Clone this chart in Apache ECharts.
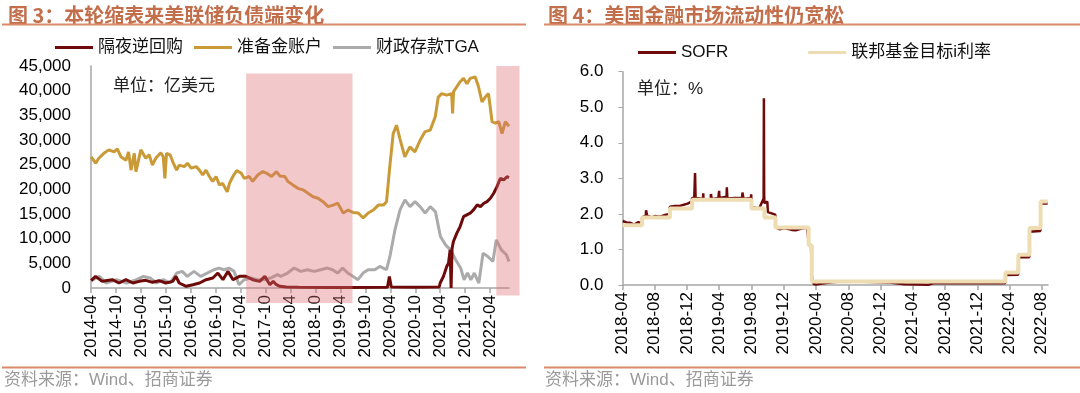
<!DOCTYPE html>
<html><head><meta charset="utf-8">
<script src="https://cdn.jsdelivr.net/npm/echarts@6/dist/echarts.min.js"></script>
<style>html,body{margin:0;padding:0;background:#fff}#c{width:1080px;height:393px}</style>
</head><body><div id="c"></div>
<script>
// ---------- DATA ----------
const leftTitle = '图 3：本轮缩表来美联储负债端变化';
const rightTitle = '图 4：美国金融市场流动性仍宽松';
const sourceText = '资料来源：Wind、招商证券';
const leftUnit = '单位：亿美元';
const rightUnit = '单位：%';
const leftNames = ['隔夜逆回购', '准备金账户', '财政存款TGA'];
const rightNames = ['SOFR', '联邦基金目标i利率'];
const leftTickLabels = ['2014-04','2014-10','2015-04','2015-10','2016-04','2016-10','2017-04','2017-10','2018-04','2018-10','2019-04','2019-10','2020-04','2020-10','2021-04','2021-10','2022-04'];
const rightTickLabels = ['2018-04','2018-08','2018-12','2019-04','2019-08','2019-12','2020-04','2020-08','2020-12','2021-04','2021-08','2021-12','2022-04','2022-08'];
const leftRange = ['2014-04-01', '2022-08-18'];
const rightRange = ['2018-04-01', '2022-08-25'];
// shaded periods (balance-sheet reduction), left chart
const bandStarts = ['2017-05-11', '2022-05-17'];
const bandEnds = ['2019-06-29', '2022-11-03'];
const bandTops = [43500, 45000];

const rrp = [
['2014-04-02',1500],['2014-04-10',1680],['2014-05-04',2360],['2014-06-22',1350],['2014-09-04',1680],['2014-10-23',1010],
['2014-12-13',1680],['2015-02-01',1010],['2015-03-20',1350],['2015-05-08',1550],['2015-06-25',1150],['2015-08-13',1480],
['2015-10-01',1010],['2015-11-20',1350],['2015-12-14',2360],['2016-01-07',1010],['2016-02-27',340],['2016-04-16',670],
['2016-06-04',1010],['2016-07-22',1680],['2016-09-09',2020],['2016-10-16',3030],['2016-11-22',1680],['2016-12-29',3370],
['2017-02-04',1680],['2017-03-23',2360],['2017-05-10',2360],['2017-06-28',1680],['2017-08-18',1350],['2017-09-25',2360],
['2017-11-01',670],['2017-11-25',1350],['2017-12-19',670],['2018-01-13',340],['2018-03-01',200],['2018-06-01',150],
['2019-01-01',120],['2019-06-01',100],['2020-03-11',150],['2020-03-25',2350],['2020-04-08',200],['2020-10-01',150],
['2021-03-25',200],['2021-04-01',1010],['2021-04-25',2360],['2021-05-19',4370],['2021-06-01',5050],['2021-06-13',7740],
['2021-06-20',0],['2021-06-27',8000],['2021-07-07',9420],['2021-08-01',11120],['2021-08-25',12450],['2021-09-19',14470],
['2021-10-13',14830],['2021-11-07',15160],['2021-12-01',15830],['2021-12-28',16840],['2022-01-21',16500],['2022-02-15',17180],
['2022-03-10',17510],['2022-04-04',18190],['2022-04-28',19200],['2022-05-22',20540],['2022-06-16',22240],['2022-07-10',21900],
['2022-08-03',22560],['2022-08-18',22370]
];
const reserves = [
['2014-04-02',26600],['2014-05-05',25300],['2014-05-28',26300],['2014-07-04',27300],['2014-08-10',28000],['2014-09-17',27600],
['2014-10-11',28200],['2014-11-06',26600],['2014-12-13',25900],['2015-01-01',27600],['2015-01-19',23900],['2015-02-12',27300],
['2015-02-24',23600],['2015-04-01',28000],['2015-05-07',26300],['2015-06-01',27000],['2015-06-25',24900],['2015-07-19',26300],
['2015-08-25',27400],['2015-09-12',26600],['2015-09-24',22200],['2015-10-06',27300],['2015-11-01',27000],['2015-11-25',25300],
['2015-12-19',23900],['2016-01-07',24900],['2016-02-13',24600],['2016-03-08',25300],['2016-04-03',24300],['2016-05-10',24600],
['2016-06-03',23900],['2016-06-27',22900],['2016-07-21',23900],['2016-08-15',22600],['2016-09-08',21600],['2016-10-03',22600],
['2016-10-27',20900],['2016-11-20',21200],['2016-12-24',19500],['2017-01-09',21200],['2017-02-03',22600],['2017-03-03',23800],
['2017-04-04',23300],['2017-04-28',22200],['2017-06-03',22600],['2017-06-28',21600],['2017-08-04',22900],['2017-09-10',23600],
['2017-10-06',23300],['2017-11-13',22600],['2017-12-19',23600],['2018-01-13',22700],['2018-02-18',22600],['2018-03-13',21600],
['2018-04-18',20900],['2018-05-25',20200],['2018-07-01',19900],['2018-08-07',19200],['2018-09-13',18500],['2018-10-19',18200],
['2018-11-25',17500],['2019-01-01',16500],['2019-02-07',16800],['2019-03-13',17200],['2019-04-22',15200],['2019-05-28',15800],
['2019-07-04',15300],['2019-08-10',15200],['2019-09-15',14200],['2019-10-22',15200],['2019-11-28',15800],['2020-01-04',16800],
['2020-02-10',16800],['2020-03-04',17500],['2020-03-28',24600],['2020-04-22',31300],['2020-05-16',33000],['2020-06-10',30300],
['2020-07-16',26600],['2020-08-22',28600],['2020-09-28',27600],['2020-11-06',30000],['2020-12-12',31700],['2021-01-18',32000],
['2021-02-24',34700],['2021-03-18',38700],['2021-04-12',39400],['2021-05-18',39100],['2021-06-24',39400],['2021-07-01',35400],
['2021-07-08',39800],['2021-08-25',41800],['2021-09-19',42500],['2021-10-14',41400],['2021-11-07',42500],['2021-12-13',42800],
['2022-01-07',40800],['2022-02-01',37700],['2022-02-25',38700],['2022-03-21',39400],['2022-04-16',33700],['2022-05-10',33400],
['2022-06-04',33700],['2022-06-28',31300],['2022-07-22',33700],['2022-08-18',32800]
];
const tga = [
['2014-04-02',1500],['2014-04-10',1350],['2014-06-01',2360],['2014-07-20',1010],['2014-10-05',1680],['2014-12-18',1010],
['2015-03-01',1680],['2015-04-20',2360],['2015-06-08',2020],['2015-07-26',1010],['2015-09-13',1680],['2015-11-01',1010],
['2015-12-20',3030],['2016-01-29',3370],['2016-03-06',2360],['2016-04-24',3370],['2016-06-12',2360],['2016-07-30',3030],
['2016-09-17',3700],['2016-10-24',4040],['2016-11-30',3700],['2017-01-05',4040],['2017-02-12',3370],['2017-03-20',670],
['2017-04-26',1680],['2017-06-14',2020],['2017-08-01',1680],['2017-09-19',1680],['2017-11-06',2020],['2017-12-26',2700],
['2018-01-20',2360],['2018-03-10',3030],['2018-04-28',4040],['2018-06-15',3370],['2018-08-03',3700],['2018-09-21',3370],
['2018-11-08',3700],['2018-12-27',4040],['2019-02-03',3700],['2019-03-11',3030],['2019-04-18',4040],['2019-05-25',3030],
['2019-07-01',2360],['2019-08-08',1680],['2019-09-14',3030],['2019-10-21',3700],['2019-12-09',3700],['2020-01-15',4370],
['2020-03-04',3700],['2020-03-29',6390],['2020-05-05',11780],['2020-06-11',15830],['2020-07-17',17850],['2020-08-23',16500],
['2020-09-29',17510],['2020-11-05',16500],['2020-12-12',15160],['2021-01-18',16500],['2021-02-25',15490],['2021-04-03',10430],
['2021-05-10',8750],['2021-06-16',7740],['2021-07-23',5720],['2021-08-29',4040],['2021-09-23',1680],['2021-10-18',3030],
['2021-11-12',1680],['2021-12-07',3030],['2022-01-09',1010],['2022-02-09',7070],['2022-03-16',6390],['2022-04-22',5380],
['2022-05-17',9760],['2022-06-23',7740],['2022-07-30',6730],['2022-08-18',5380]
];
const sofr = [
['2018-04-02',1.80],['2018-04-16',1.76],['2018-05-01',1.75],['2018-05-15',1.70],['2018-05-31',1.77],['2018-06-13',1.72],
['2018-06-14',1.90],['2018-06-28',1.95],['2018-06-29',2.10],['2018-07-02',2.12],['2018-07-03',1.95],['2018-07-20',1.90],
['2018-08-01',1.94],['2018-08-20',1.92],['2018-09-04',1.96],['2018-09-26',2.00],['2018-09-27',2.20],['2018-10-15',2.22],
['2018-11-01',2.22],['2018-11-15',2.25],['2018-12-03',2.29],['2018-12-19',2.35],['2018-12-20',2.45],['2018-12-28',2.45],
['2018-12-31',3.15],['2019-01-02',2.45],['2019-01-30',2.42],['2019-01-31',2.58],['2019-02-01',2.42],['2019-02-28',2.40],
['2019-03-01',2.56],['2019-03-04',2.41],['2019-03-29',2.45],['2019-04-01',2.65],['2019-04-02',2.45],['2019-04-29',2.48],
['2019-04-30',2.75],['2019-05-02',2.43],['2019-05-30',2.45],['2019-05-31',2.50],['2019-06-03',2.40],['2019-06-27',2.45],
['2019-06-28',2.60],['2019-07-02',2.42],['2019-07-30',2.45],['2019-07-31',2.55],['2019-08-01',2.19],['2019-08-30',2.15],
['2019-09-03',2.15],['2019-09-16',2.43],['2019-09-17',5.25],['2019-09-18',2.55],['2019-09-19',2.30],['2019-09-30',2.35],
['2019-10-01',2.35],['2019-10-02',2.05],['2019-10-30',1.98],['2019-10-31',1.62],['2019-11-15',1.57],['2019-12-02',1.60],
['2019-12-31',1.55],['2020-01-15',1.54],['2020-02-03',1.58],['2020-02-28',1.62],['2020-03-03',1.60],['2020-03-04',1.15],
['2020-03-13',1.10],['2020-03-16',0.26],['2020-03-23',0.03],['2020-04-01',0.01],['2020-05-01',0.05],['2020-06-01',0.08],
['2020-07-01',0.10],['2020-08-03',0.10],['2020-10-01',0.09],['2020-12-01',0.08],['2021-01-04',0.07],['2021-03-01',0.02],
['2021-06-01',0.01],['2021-06-17',0.05],['2021-09-01',0.05],['2021-12-01',0.05],['2022-03-16',0.05],['2022-03-17',0.28],
['2022-05-04',0.29],['2022-05-05',0.78],['2022-06-15',0.78],['2022-06-16',1.50],['2022-07-27',1.52],['2022-07-28',2.30],
['2022-08-24',2.29]
];
const fedTarget = [
['2018-04-01',1.68],['2018-06-14',1.90],['2018-09-27',2.15],['2018-12-20',2.40],['2019-08-01',2.15],['2019-09-19',1.90],
['2019-10-31',1.62],['2020-03-04',1.12],['2020-03-16',0.10],['2022-03-17',0.35],['2022-05-05',0.85],['2022-06-16',1.60],
['2022-07-28',2.35],['2022-08-24',2.35]
];

// ---------- HELPERS ----------
function ts(s) { const p = s.split('-').map(Number); return new Date(p[0], p[1] - 1, p[2] || 1).getTime(); }
function ym(v) { const d = new Date(v); return d.getFullYear() + '-' + String(d.getMonth() + 1).padStart(2, '0'); }
function toXY(arr) { return arr.map(p => [ts(p[0]), p[1]]); }
const NUM = "'Liberation Sans', Arial, 'Noto Sans CJK SC', sans-serif";
const CJK = "'Noto Sans CJK SC', sans-serif";
const axisGrey = '#A6A6A6';
const leftTicks = leftTickLabels.map(ts);
const rightTicks = rightTickLabels.map(ts);

const C_RRP = '#6E0A0A', C_RES = '#C99A36', C_TGA = '#ABABAB', C_SOFR = '#6E0A0A', C_FED = '#EEDDB2';

function dateAxis(grid, range, ticks) {
  return {
    type: 'value', gridIndex: grid, min: ts(range[0]), max: ts(range[1]), scale: true,
    axisLine: { show: true, onZero: false, lineStyle: { color: axisGrey, width: 1.5 } },
    axisTick: { show: true, length: 5, customValues: ticks, lineStyle: { color: axisGrey, width: 1.5 } },
    axisLabel: { customValues: ticks, rotate: 90, formatter: ym, fontSize: 17, color: '#000', fontFamily: NUM, margin: 7, hideOverlap: false },
    splitLine: { show: false }, minorTick: { show: false }
  };
}

const chart = echarts.init(document.getElementById('c'), null, { renderer: 'canvas' });
const option = {
  animation: false,
  backgroundColor: '#fff',
  title: [
    { text: leftTitle, left: 3, top: 0, textStyle: { fontSize: 20, fontWeight: 'bold', color: '#C26E4B', fontFamily: CJK } },
    { text: rightTitle, left: 543, top: 0, textStyle: { fontSize: 20, fontWeight: 'bold', color: '#C26E4B', fontFamily: CJK } }
  ],
  legend: [
    { data: leftNames, left: 50, top: 34, icon: 'rect', itemWidth: 38, itemHeight: 3, itemGap: 11,
      textStyle: { fontSize: 17, color: '#111', fontFamily: NUM } },
    { data: rightNames, left: 633, top: 39, icon: 'rect', itemWidth: 38, itemHeight: 3, itemGap: 80,
      textStyle: { fontSize: 17, color: '#111', fontFamily: NUM } }
  ],
  grid: [
    { left: 91, top: 66, width: 418, height: 222, containLabel: false },
    { left: 622.5, top: 71.7, width: 425.5, height: 213.3, containLabel: false }
  ],
  xAxis: [ dateAxis(0, leftRange, leftTicks), dateAxis(1, rightRange, rightTicks) ],
  yAxis: [
    { type: 'value', gridIndex: 0, min: 0, max: 45000, interval: 5000,
      axisLine: { show: true, lineStyle: { color: axisGrey, width: 1.5 } },
      axisTick: { show: false },
      axisLabel: { fontSize: 17, color: '#000', fontFamily: NUM, margin: 20, formatter: v => v.toLocaleString('en-US') },
      splitLine: { show: false } },
    { type: 'value', gridIndex: 1, min: 0, max: 6, interval: 1,
      axisLine: { show: true, lineStyle: { color: axisGrey, width: 1.5 } },
      axisTick: { show: true, length: 4, lineStyle: { color: axisGrey } },
      axisLabel: { fontSize: 17, color: '#000', fontFamily: NUM, margin: 19, formatter: v => v.toFixed(1) },
      splitLine: { show: false } }
  ],
  series: [
    { name: leftNames[0], type: 'line', xAxisIndex: 0, yAxisIndex: 0, data: toXY(rrp), showSymbol: false, symbol: 'none', z: 4,
      lineStyle: { color: C_RRP, width: 3 }, itemStyle: { color: C_RRP } },
    { name: leftNames[1], type: 'line', xAxisIndex: 0, yAxisIndex: 0, data: toXY(reserves), showSymbol: false, symbol: 'none', z: 3,
      lineStyle: { color: C_RES, width: 3 }, itemStyle: { color: C_RES } },
    { name: leftNames[2], type: 'line', xAxisIndex: 0, yAxisIndex: 0, data: toXY(tga), showSymbol: false, symbol: 'none', z: 2,
      lineStyle: { color: C_TGA, width: 3 }, itemStyle: { color: C_TGA } },
    { name: rightNames[0], type: 'line', xAxisIndex: 1, yAxisIndex: 1, data: toXY(sofr), showSymbol: false, symbol: 'none', z: 2,
      lineStyle: { color: C_SOFR, width: 2.5 }, itemStyle: { color: C_SOFR } },
    { name: rightNames[1], type: 'line', xAxisIndex: 1, yAxisIndex: 1, data: toXY(fedTarget), step: 'end', showSymbol: false, symbol: 'none', z: 3,
      lineStyle: { color: C_FED, width: 4 }, itemStyle: { color: C_FED } }
  ]
};
chart.setOption(option);

// decorations: rules, notes, and shaded periods positioned through the axes
const g = [];
function rule(x1, x2, y) { return { type: 'line', z: 50, shape: { x1: x1, y1: y, x2: x2, y2: y }, style: { stroke: '#D98A66', lineWidth: 2 } }; }
g.push(rule(2, 526, 24.5), rule(544, 1080, 24.5), rule(2, 526, 367.5), rule(544, 1080, 367.5));
g.push({ type: 'text', z: 50, x: 4, y: 372, style: { text: sourceText, fontSize: 17, fill: '#9A9A9A', fontFamily: NUM } });
g.push({ type: 'text', z: 50, x: 545, y: 372, style: { text: sourceText, fontSize: 17, fill: '#9A9A9A', fontFamily: NUM } });
g.push({ type: 'text', z: 50, x: 113, y: 76, style: { text: leftUnit, fontSize: 17, fill: '#222', fontFamily: CJK } });
g.push({ type: 'text', z: 50, x: 637, y: 81, style: { text: rightUnit, fontSize: 17, fill: '#222', fontFamily: NUM } });
const axisY0 = chart.convertToPixel({ yAxisIndex: 0 }, 0);
const bandDrop = [15, 7.5];
for (let i = 0; i < bandStarts.length; i++) {
  const x1 = chart.convertToPixel({ xAxisIndex: 0 }, ts(bandStarts[i]));
  const x2 = chart.convertToPixel({ xAxisIndex: 0 }, ts(bandEnds[i]));
  const yTop = chart.convertToPixel({ yAxisIndex: 0 }, bandTops[i]);
  g.push({ type: 'rect', z: 40, shape: { x: x1, y: yTop, width: x2 - x1, height: axisY0 + bandDrop[i] - yTop },
           style: { fill: 'rgba(222,110,115,0.38)' } });
}
chart.setOption({ graphic: g });
</script></body></html>
